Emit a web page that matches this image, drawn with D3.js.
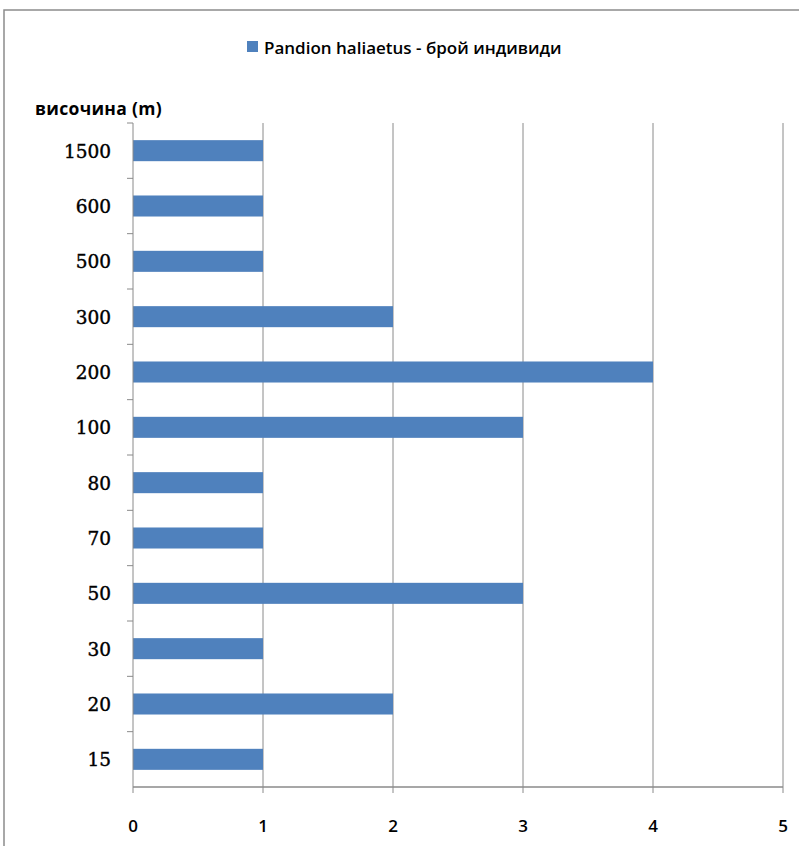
<!DOCTYPE html>
<html>
<head>
<meta charset="utf-8">
<script src="https://cdn.jsdelivr.net/npm/d3@7"></script>
<style>
  body { margin: 0; background: #fff; }
  text { fill: #000; }
</style>
</head>
<body>
<svg id="Viz"></svg>
<script>
width = 799,
height = 846;

// data, top to bottom as drawn
var heights = ["1500", "600", "500", "300", "200", "100", "80", "70", "50", "30", "20", "15"];
var counts  = [1, 1, 1, 2, 4, 3, 1, 1, 3, 1, 2, 1];
var xTicks  = [0, 1, 2, 3, 4, 5];
var seriesName = "Pandion haliaetus - брой индивиди";
var axisTitle = "височина (m)";

function first() {
  var svg = d3.select("#Viz").attr("width", width).attr("height", height);

  // chart frame (cut off at right/bottom like the picture)
  svg.append("rect")
    .attr("x", 4).attr("y", 10)
    .attr("width", 820).attr("height", 860)
    .attr("fill", "none")
    .attr("stroke", "#8c8c8c")
    .attr("stroke-width", 1.5);

  var left = 133, right = 783, top = 123, bottom = 787;

  var x = d3.scaleLinear().domain([0, 5]).range([left, right]);
  var y = d3.scaleBand().domain(heights).range([top, bottom]).paddingInner(0.62).paddingOuter(0.31);
  var yb = d3.scaleBand().domain(heights).range([top, bottom]);

  // grid lines
  svg.append("g")
    .selectAll("line")
    .data(xTicks.slice(1))
    .enter()
    .append("line")
      .attr("x1", function(d){ return x(d) })
      .attr("x2", function(d){ return x(d) })
      .attr("y1", top)
      .attr("y2", bottom)
      .style("stroke", "#8a8a8a")
      .style("stroke-width", 1);

  // bars
  svg.append("g")
    .selectAll("rect")
    .data(heights)
    .enter()
    .append("rect")
      .attr("x", x(0))
      .attr("y", function(d){ return y(d) })
      .attr("width", function(d, i){ return x(counts[i]) - x(0) })
      .attr("height", y.bandwidth())
      .attr("fill", "#4f81bd");

  // y axis line + ticks at category boundaries
  var yAxis = svg.append("g");
  yAxis.append("line")
    .attr("x1", left).attr("x2", left)
    .attr("y1", top).attr("y2", bottom)
    .style("stroke", "#8a8a8a");
  yAxis.selectAll("line.tk")
    .data(heights)
    .enter()
    .append("line")
      .attr("class", "tk")
      .attr("x1", left - 6).attr("x2", left)
      .attr("y1", function(d){ return yb(d) })
      .attr("y2", function(d){ return yb(d) })
      .style("stroke", "#8a8a8a");
  yAxis.selectAll("text")
    .data(heights)
    .enter()
    .append("text")
      .attr("x", left - 22)
      .attr("y", function(d){ return yb(d) + yb.bandwidth() / 2 })
      .attr("dy", "0.37em")
      .attr("text-anchor", "end")
      .style("font-family", "'DejaVu Serif', serif")
      .style("font-size", "18.5px")
      .style("stroke", "#000")
      .style("stroke-width", 0.4)
      .text(function(d){ return d });

  // x axis
  var xAxis = svg.append("g");
  xAxis.append("line")
    .attr("x1", left).attr("x2", right)
    .attr("y1", bottom).attr("y2", bottom)
    .style("stroke", "#8a8a8a")
    .style("stroke-width", 1.5);
  xAxis.selectAll("line.tk")
    .data(xTicks)
    .enter()
    .append("line")
      .attr("class", "tk")
      .attr("x1", function(d){ return x(d) })
      .attr("x2", function(d){ return x(d) })
      .attr("y1", bottom).attr("y2", bottom + 6)
      .style("stroke", "#8a8a8a");
  xAxis.selectAll("text")
    .data(xTicks)
    .enter()
    .append("text")
      .attr("x", function(d){ return x(d) })
      .attr("y", 832)
      .attr("text-anchor", "middle")
      .style("font-family", "'Open Sans', sans-serif")
      .style("font-weight", "600")
      .style("font-size", "17px")
      .text(function(d){ return d });

  // axis title
  svg.append("text")
    .attr("x", 35).attr("y", 115)
    .style("font-family", "'Open Sans', sans-serif")
    .style("font-weight", "bold")
    .style("font-size", "17.5px")
    .style("letter-spacing", "0.3px")
    .text(axisTitle);

  // legend
  svg.append("rect")
    .attr("x", 247).attr("y", 41)
    .attr("width", 11).attr("height", 11)
    .attr("fill", "#4f81bd");
  svg.append("text")
    .attr("x", 264).attr("y", 54)
    .style("font-family", "'Open Sans', sans-serif")
    .style("font-weight", "600")
    .style("font-size", "17px")
    .text(seriesName);
}

document.addEventListener('DOMContentLoaded', () => {
  first();
});
</script>
</body>
</html>
